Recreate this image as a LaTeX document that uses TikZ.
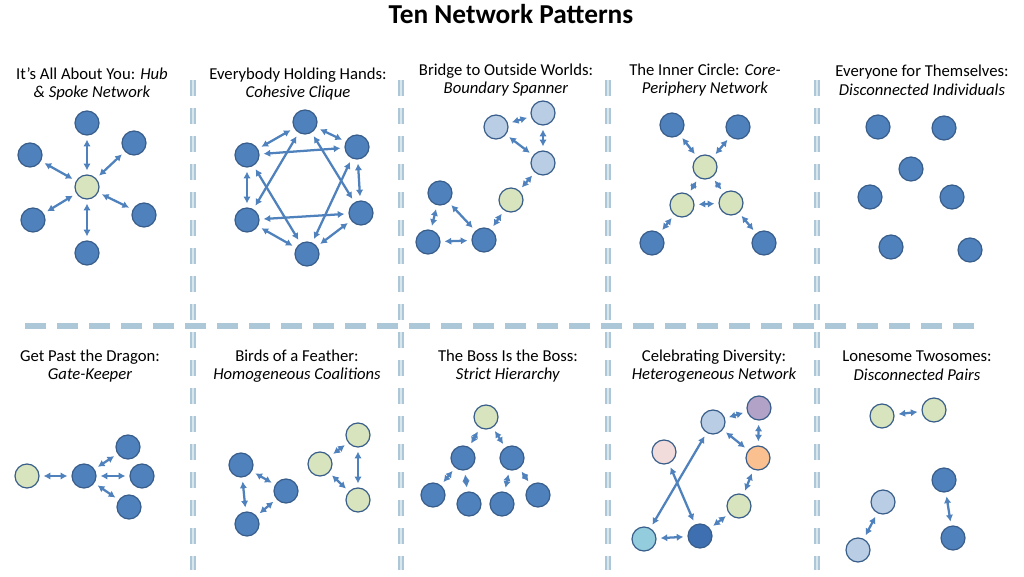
\documentclass[tikz,border=0pt]{standalone}
\usepackage{fontspec}
\setmainfont{Carlito}
\usetikzlibrary{arrows.meta}

\definecolor{nodeblue}{RGB}{79,129,189}
\definecolor{nodeline}{RGB}{56,93,138}
\definecolor{nodegreen}{RGB}{215,228,189}
\definecolor{nodelight}{RGB}{185,205,229}
\definecolor{nodepurple}{RGB}{179,162,199}
\definecolor{nodeorange}{RGB}{250,192,144}
\definecolor{nodepink}{RGB}{242,220,219}
\definecolor{nodecyan}{RGB}{147,205,221}
\definecolor{nodedark}{RGB}{62,111,176}
\definecolor{sepblue}{RGB}{172,200,216}

\tikzset{
  pnode/.style={circle,draw=nodeline,line width=0.9pt,minimum size=18pt,inner sep=0pt},
  dk/.style={pnode,fill=nodeblue},
  gr/.style={pnode,fill=nodegreen},
  lb/.style={pnode,fill=nodelight},
  link/.style={{Latex[length=5pt,width=5.5pt]}-{Latex[length=5pt,width=5.5pt]},
    line width=1.7pt,draw=nodeblue,shorten <=3pt,shorten >=3pt},
  ptitle/.style={align=center,font=\fontsize{12.5}{14}\selectfont},
  sepv/.style={draw=sepblue,line width=1.3pt,double=sepblue!45,double distance=1.2pt,
    dash pattern=on 12pt off 9pt},
  seph/.style={sepblue,line width=4.5pt,dash pattern=on 16pt off 8pt}
}

\begin{document}
\begin{tikzpicture}[x=0.75pt,y=-0.75pt]
  \useasboundingbox (0,0) rectangle (1024,577);
  \node (title) at (511,14) {\fontsize{20.5}{24}\selectfont\bfseries Ten Network Patterns};

  % separators
  \foreach \x in {193,401,608,817}
    \draw[sepv] (\x,80) -- (\x,570);
  \draw[seph] (25,326) -- (975,326);

  % hub & spoke
  \node[ptitle] (t1) at (92,84) {It’s All About You: \textit{Hub}\\\textit{\& Spoke Network}};
  \node[gr] (hub) at (87,187) {};
  \node[dk] (s1) at (87,123) {};
  \node[dk] (s2) at (134,143) {};
  \node[dk] (s3) at (144,215) {};
  \node[dk] (s4) at (87,253) {};
  \node[dk] (s5) at (33,220) {};
  \node[dk] (s6) at (30,155) {};
  \foreach \n in {1,...,6}
    \draw[link] (hub) -- (s\n);

  % cohesive clique
  \node[ptitle] (t2) at (298,84) {Everybody Holding Hands:\\\textit{Cohesive Clique}};
  \node[dk] (c1) at (305,122) {};
  \node[dk] (c2) at (357,147) {};
  \node[dk] (c3) at (361,213) {};
  \node[dk] (c4) at (307,254) {};
  \node[dk] (c5) at (247,220) {};
  \node[dk] (c6) at (247,155) {};
  \foreach \a/\b in {1/2,2/3,3/4,4/5,5/6,6/1,1/5,5/3,3/1,6/2,2/4,4/6}
    \draw[link] (c\a) -- (c\b);

  % boundary spanner
  \node[ptitle] (t3) at (506,80) {Bridge to Outside Worlds:\\\textit{Boundary Spanner}};
  \node[lb] (bl1) at (496,127) {};
  \node[lb] (bl2) at (543,113) {};
  \node[lb] (bl3) at (543,163) {};
  \node[gr] (bg) at (511,200) {};
  \node[dk] (bd1) at (440,193) {};
  \node[dk] (bd2) at (428,242) {};
  \node[dk] (bd3) at (484,240) {};
  \draw[link] (bl1) -- (bl2);
  \draw[link] (bl2) -- (bl3);
  \draw[link] (bl1) -- (bl3);
  \draw[link] (bl3) -- (bg);
  \draw[link] (bg) -- (bd3);
  \draw[link] (bd1) -- (bd3);
  \draw[link] (bd1) -- (bd2);
  \draw[link] (bd2) -- (bd3);

  % core-periphery
  \node[ptitle] (t4) at (705,80) {The Inner Circle: \textit{Core-}\\\textit{Periphery Network}};
  \node[dk] (ip1) at (672,125) {};
  \node[dk] (ip2) at (738,127) {};
  \node[gr] (ic1) at (705,167) {};
  \node[gr] (ic2) at (682,205) {};
  \node[gr] (ic3) at (731,203) {};
  \node[dk] (ip3) at (652,243) {};
  \node[dk] (ip4) at (764,243) {};
  \draw[link] (ip1) -- (ic1);
  \draw[link] (ip2) -- (ic1);
  \draw[link] (ic1) -- (ic2);
  \draw[link] (ic1) -- (ic3);
  \draw[link] (ic2) -- (ic3);
  \draw[link] (ic2) -- (ip3);
  \draw[link] (ic3) -- (ip4);

  % disconnected individuals
  \node[ptitle] (t5) at (922,80) {Everyone for Themselves:\\\textit{Disconnected Individuals}};
  \foreach \x/\y [count=\n] in {878/127,944/128,911/169,870/197,952/197,891/247,970/250}
    \node[dk] (d\n) at (\x,\y) {};

  % gate-keeper
  \node[ptitle] (t6) at (90,366) {Get Past the Dragon:\\\textit{Gate-Keeper}};
  \node[gr] (gk0) at (27,476) {};
  \node[dk] (gk) at (84,476) {};
  \node[dk] (gk1) at (128,447) {};
  \node[dk] (gk2) at (142,476) {};
  \node[dk] (gk3) at (129,507) {};
  \foreach \n in {0,...,3}
    \draw[link] (gk) -- (gk\n);

  % homogeneous coalitions
  \node[ptitle] (t7) at (297,366) {Birds of a Feather:\\\textit{Homogeneous Coalitions}};
  \node[dk] (hd1) at (241,465) {};
  \node[dk] (hd2) at (286,491) {};
  \node[dk] (hd3) at (247,524) {};
  \node[gr] (hg1) at (358,435) {};
  \node[gr] (hg2) at (320,464) {};
  \node[gr] (hg3) at (358,500) {};
  \foreach \a/\b in {1/2,2/3,3/1}{
    \draw[link] (hd\a) -- (hd\b);
    \draw[link] (hg\a) -- (hg\b);
  }

  % strict hierarchy
  \node[ptitle] (t8) at (508,366) {The Boss Is the Boss:\\\textit{Strict Hierarchy}};
  \node[gr] (boss) at (486,417) {};
  \node[dk] (m1) at (463,458) {};
  \node[dk] (m2) at (512,458) {};
  \node[dk] (w1) at (433,495) {};
  \node[dk] (w2) at (469,504) {};
  \node[dk] (w3) at (502,504) {};
  \node[dk] (w4) at (538,495) {};
  \draw[link] (boss) -- (m1);
  \draw[link] (boss) -- (m2);
  \draw[link] (m1) -- (w1);
  \draw[link] (m1) -- (w2);
  \draw[link] (m2) -- (w3);
  \draw[link] (m2) -- (w4);

  % heterogeneous network
  \node[ptitle] (t9) at (714,366) {Celebrating Diversity:\\\textit{Heterogeneous Network}};
  \node[lb] (hlb) at (713,422) {};
  \node[pnode,fill=nodepurple] (hpu) at (759,408) {};
  \node[pnode,fill=nodeorange] (hor) at (758,458) {};
  \node[pnode,fill=nodepink] (hpk) at (664,452) {};
  \node[gr] (hgr) at (739,506) {};
  \node[pnode,fill=nodecyan] (hcy) at (644,539) {};
  \node[pnode,fill=nodedark] (hdk) at (700,536) {};
  \draw[link] (hlb) -- (hpu);
  \draw[link] (hpu) -- (hor);
  \draw[link] (hlb) -- (hor);
  \draw[link] (hor) -- (hgr);
  \draw[link] (hgr) -- (hdk);
  \draw[link] (hdk) -- (hcy);
  \draw[link] (hlb) -- (hcy);
  \draw[link] (hpk) -- (hdk);

  % disconnected pairs
  \node[ptitle] (t10) at (917,366) {Lonesome Twosomes:\\\textit{Disconnected Pairs}};
  \node[gr] (pg1) at (882,416) {};
  \node[gr] (pg2) at (934,410) {};
  \node[lb] (pl1) at (883,502) {};
  \node[lb] (pl2) at (858,550) {};
  \node[dk] (pd1) at (944,480) {};
  \node[dk] (pd2) at (953,538) {};
  \draw[link] (pg1) -- (pg2);
  \draw[link] (pl1) -- (pl2);
  \draw[link] (pd1) -- (pd2);
\end{tikzpicture}
\end{document}
